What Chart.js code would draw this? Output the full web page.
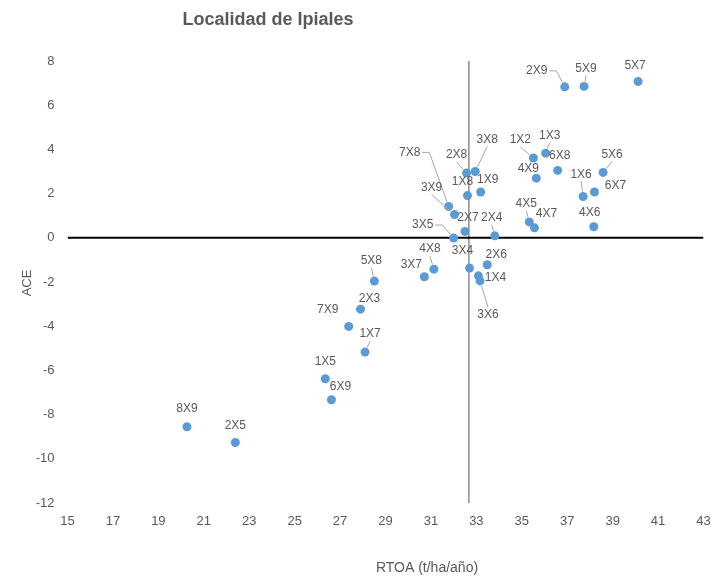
<!DOCTYPE html>
<html>
<head>
<meta charset="utf-8">
<script src="https://cdn.jsdelivr.net/npm/chart.js@4.4.0/dist/chart.umd.min.js"></script>
<style>
  body { margin: 0; background: #fff; overflow: hidden; }
</style>
</head>
<body>
<canvas id="chart" width="713" height="579"></canvas>
<script>
// Genotype codes and their values
const NAMES = ['2X9', '5X9', '5X7', '1X2', '1X3', '6X8', '5X6', '4X9', '1X6', '6X7',
  '4X5', '4X7', '4X6', '7X8', '2X8', '3X8', '1X8', '1X9', '3X9', '2X7',
  '3X5', '2X4', '3X4', '2X6', '1X4', '3X6', '4X8', '3X7', '5X8', '2X3',
  '7X9', '1X7', '1X5', '6X9', '8X9', '2X5'];
const RTOA = [36.89, 37.74, 40.12, 35.51, 36.05, 36.58, 38.58, 35.64, 37.70, 38.20,
  35.33, 35.56, 38.17, 31.78, 32.57, 32.95, 32.61, 33.19, 32.04, 32.50,
  32.00, 33.81, 32.70, 33.48, 33.09, 33.16, 31.13, 30.71, 28.51, 27.90,
  27.38, 28.10, 26.35, 26.62, 20.26, 22.39];
const ACE = [6.83, 6.85, 7.07, 3.61, 3.83, 3.05, 2.96, 2.70, 1.87, 2.07,
  0.72, 0.45, 0.50, 1.42, 2.93, 3.00, 1.91, 2.07, 1.05, 0.29,
  -0.01, 0.09, -1.37, -1.22, -1.72, -1.95, -1.42, -1.76, -1.96, -3.23,
  -4.01, -5.17, -6.38, -7.33, -8.55, -9.26];

// axis ranges and where the vertical axis crosses
const X_MIN = 15, X_MAX = 43, X_STEP = 2;
const Y_MIN = -12, Y_MAX = 8, Y_STEP = 2;
const CROSS_X = 32.67;

// label placement relative to each point (px), like Excel's dragged data labels
const LABEL_OFFSETS = {
  '2X9': [-28, -16], '5X9': [2, -18], '5X7': [-3, -16], '1X2': [-13, -18], '1X3': [4, -17],
  '6X8': [2, -15], '5X6': [9, -18], '4X9': [-8, -9], '1X6': [-2, -22], '6X7': [21, -6],
  '4X5': [-3, -18], '4X7': [12, -14], '4X6': [-4, -14], '7X8': [-39, -54], '2X8': [-10, -18],
  '3X8': [12, -32], '1X8': [-5, -14], '1X9': [7, -12], '3X9': [-23, -27], '2X7': [3, -14],
  '3X5': [-31, -13], '2X4': [-3, -18], '3X4': [-7, -17], '2X6': [9, -10], '1X4': [17, 2],
  '3X6': [8, 34], '4X8': [-4, -20], '3X7': [-13, -12], '5X8': [-3, -20], '2X3': [9, -10],
  '7X9': [-21, -17], '1X7': [5, -18], '1X5': [0, -17], '6X9': [9, -13], '8X9': [0, -18],
  '2X5': [0, -17]
};
const LEADERS = new Set(['2X9', '5X9', '1X2', '1X3', '5X6', '1X6', '4X5', '7X8', '2X8', '3X8',
  '3X9', '2X4', '3X5', '3X6', '4X8', '5X8', '1X7']);

const TEXT = '#595959';
const FONT = '"Liberation Sans", Arial, sans-serif';

const points = RTOA.map((x, i) => ({ x: x, y: ACE[i] }));

// data labels with leader lines
const labelPlugin = {
    id: 'pointLabels',
    afterDatasetsDraw(chart) {
        const ctx = chart.ctx;
        const meta = chart.getDatasetMeta(0);
        ctx.save();
        ctx.font = '12px ' + FONT;
        ctx.textAlign = 'center';
        ctx.textBaseline = 'middle';
        meta.data.forEach((pt, i) => {
            const name = NAMES[i];
            const off = LABEL_OFFSETS[name] || [0, -16];
            const lx = pt.x + off[0];
            const ly = pt.y + off[1];
            if (LEADERS.has(name)) {
                const w = ctx.measureText(name).width;
                ctx.beginPath();
                ctx.strokeStyle = '#a6a6a6';
                ctx.lineWidth = 1;
                let sx, sy;
                if (off[0] < -25) {
                    sx = lx + w / 2 + 2;
                    sy = ly;
                    ctx.moveTo(sx, sy);
                    sx += 7;
                    ctx.lineTo(sx, sy);
                } else {
                    sx = lx;
                    sy = off[1] < 0 ? ly + 7 : ly - 8;
                    ctx.moveTo(sx, sy);
                }
                const ang = Math.atan2(pt.y - sy, pt.x - sx);
                ctx.lineTo(pt.x - Math.cos(ang) * 5, pt.y - Math.sin(ang) * 5);
                ctx.stroke();
            }
            ctx.fillStyle = TEXT;
            ctx.fillText(name, lx, ly);
        });
        ctx.restore();
    }
};

// chart title and axis titles
const titlePlugin = {
    id: 'titles',
    afterDraw(chart) {
        const ctx = chart.ctx;
        ctx.save();
        ctx.fillStyle = TEXT;
        ctx.textAlign = 'center';
        ctx.textBaseline = 'middle';
        ctx.font = 'bold 18px ' + FONT;
        ctx.fillText('Localidad de Ipiales', 268, 20);
        ctx.font = '14px ' + FONT;
        ctx.fillText('RTOA (t/ha/año)', 427, 568);
        ctx.translate(27, 283);
        ctx.rotate(-Math.PI / 2);
        ctx.font = '13px ' + FONT;
        ctx.fillText('ACE', 0, 0);
        ctx.restore();
    }
};

new Chart(document.getElementById('chart'), {
    type: 'scatter',
    data: {
        datasets: [
            {
                data: points,
                backgroundColor: '#5B9BD5',
                pointRadius: 4.5,
                pointBorderWidth: 0,
                order: 0
            },
            {
                type: 'line',
                data: [{ x: CROSS_X, y: Y_MIN }, { x: CROSS_X, y: Y_MAX }],
                borderColor: '#8c8c8c',
                borderWidth: 1.5,
                pointRadius: 0,
                order: 2
            },
            {
                type: 'line',
                data: [{ x: X_MIN, y: 0 }, { x: X_MAX, y: 0 }],
                borderColor: '#000000',
                borderWidth: 2,
                pointRadius: 0,
                order: 1
            }
        ]
    },
    options: {
        responsive: false,
        animation: false,
        devicePixelRatio: 1,
        layout: { padding: { top: 61, right: 9.5, left: 0, bottom: 0 } },
        plugins: {
            legend: { display: false },
            tooltip: { enabled: false },
            title: { display: false }
        },
        scales: {
            x: {
                type: 'linear',
                min: X_MIN,
                max: X_MAX,
                grid: { display: false, drawTicks: false },
                border: { display: false },
                ticks: { stepSize: X_STEP, color: TEXT, font: { size: 13, family: FONT }, padding: 11 },
                afterFit(s) {
                    s.height = 76;
                    s.paddingLeft = 0;
                    s.paddingRight = 0;
                }
            },
            y: {
                type: 'linear',
                min: Y_MIN,
                max: Y_MAX,
                grid: { display: false, drawTicks: false },
                border: { display: false },
                ticks: { stepSize: Y_STEP, color: TEXT, font: { size: 13, family: FONT }, padding: 13 },
                afterFit(s) { s.width = 67.5; }
            }
        }
    },
    plugins: [labelPlugin, titlePlugin]
});
</script>
</body>
</html>
